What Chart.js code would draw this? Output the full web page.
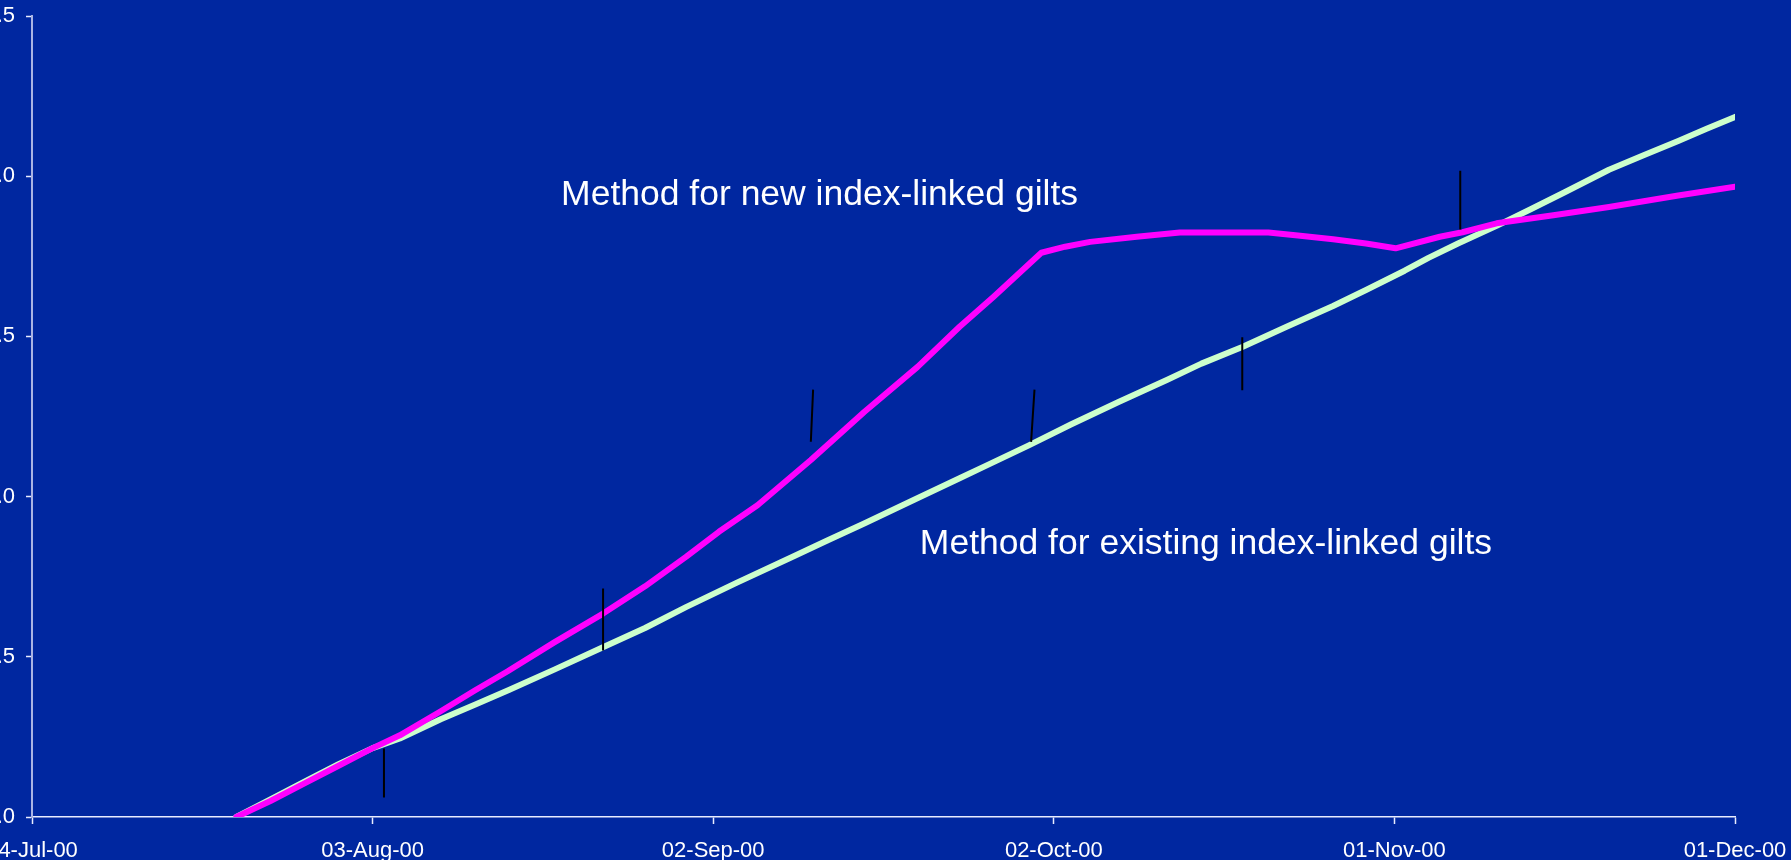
<!DOCTYPE html>
<html>
<head>
<meta charset="utf-8">
<title>Index-linked gilts accrued interest</title>
<script src="https://cdn.jsdelivr.net/npm/chart.js@4.4.1/dist/chart.umd.min.js"></script>
<style>
    html, body { margin: 0; padding: 0; background: #0027a0; overflow: hidden; }
    #wrap { width: 1791px; height: 860px; position: relative; }
</style>
</head>
<body>
<div id="wrap"><canvas id="chart"></canvas></div>
<script>
// x values are days counted from 04-Jul-00
const xTickDays = [0, 30, 60, 90, 120, 150];
const xTickLabels = ['04-Jul-00', '03-Aug-00', '02-Sep-00', '02-Oct-00', '01-Nov-00', '01-Dec-00'];
const yTickValues = [0, 0.5, 1.0, 1.5, 2.0, 2.5];
const yTickLabels = ['0.0', '0.5', '1.0', '1.5', '2.0', '2.5'];

// Method for existing index-linked gilts (light green)
const existingDays = [18, 21, 24, 27, 30, 32.4, 36, 39, 42, 46, 50, 54, 57.6, 62, 67, 70, 73.3, 77.7, 81.7,
    84, 87.8, 91.5, 95.7, 100, 103, 106.6, 110.5, 114.6, 117.5, 120.9, 123, 125.6, 129, 132, 135, 138.9, 142, 145, 147.5, 150];
const existingValues = [0.00, 0.055, 0.11, 0.165, 0.215, 0.245, 0.305, 0.35, 0.396, 0.46, 0.525, 0.59, 0.655, 0.73, 0.812, 0.862, 0.916, 0.99, 1.057,
    1.096, 1.16, 1.225, 1.295, 1.365, 1.415, 1.467, 1.53, 1.595, 1.645, 1.705, 1.745, 1.79, 1.845, 1.897, 1.95, 2.02, 2.066, 2.11, 2.148, 2.185];

// Method for new index-linked gilts (magenta)
const newDays = [18, 21, 24, 27, 30, 32.4, 36, 39, 41.9, 46, 50.3, 54, 57.6, 60.5, 63.9, 68.6, 73.3, 78, 81.7, 84.7,
    88.9, 91, 93.2, 97.3, 101.1, 108.9, 111.5, 114.6, 117.5, 120.1, 124, 126, 129, 134, 138.9, 145, 150];
const newValues = [0.00, 0.05, 0.105, 0.16, 0.215, 0.255, 0.33, 0.395, 0.455, 0.545, 0.635, 0.72, 0.812, 0.89, 0.973, 1.114, 1.264, 1.405, 1.53, 1.624,
    1.761, 1.78, 1.795, 1.811, 1.824, 1.824, 1.815, 1.803, 1.79, 1.775, 1.811, 1.825, 1.853, 1.878, 1.904, 1.94, 1.967];

// short black marker strokes
const markerDayTop    = [31.0, 50.3, 68.8, 88.3, 106.6, 125.8];
const markerDayBottom = [31.0, 50.3, 68.6, 88.0, 106.6, 125.8];
const markerTop       = [0.214, 0.713, 1.334, 1.334, 1.497, 2.017];
const markerBottom    = [0.061, 0.520, 1.171, 1.171, 1.332, 1.834];

const notes = [
    { text: 'Method for new index-linked gilts', day: 46.6, value: 1.910 },
    { text: 'Method for existing index-linked gilts', day: 78.2, value: 0.822 }
];

const toPoints = (days, values) => days.map((d, i) => ({ x: d, y: values[i] }));

const markerPoints = [];
markerTop.forEach((top, i) => {
    markerPoints.push({ x: markerDayTop[i], y: top });
    markerPoints.push({ x: markerDayBottom[i], y: markerBottom[i] });
    markerPoints.push({ x: markerDayBottom[i], y: null });
});

const FONT = "'Liberation Sans', Arial, Helvetica, sans-serif";

const background = {
    id: 'background',
    beforeDraw(chart) {
        const ctx = chart.ctx;
        ctx.save();
        ctx.fillStyle = '#0027a0';
        ctx.fillRect(0, 0, chart.width, chart.height);
        ctx.restore();
    }
};

const noteLabels = {
    id: 'noteLabels',
    afterDatasetsDraw(chart) {
        const ctx = chart.ctx;
        const xs = chart.scales.x, ys = chart.scales.y;
        ctx.save();
        ctx.fillStyle = '#ffffff';
        ctx.font = '35.5px ' + FONT;
        ctx.textAlign = 'left';
        ctx.textBaseline = 'alphabetic';
        notes.forEach(n => {
            ctx.fillText(n.text, xs.getPixelForValue(n.day), ys.getPixelForValue(n.value));
        });
        ctx.restore();
    }
};

new Chart(document.getElementById('chart'), {
    type: 'line',
    data: {
        datasets: [
            {
                label: 'Markers',
                data: markerPoints,
                borderColor: '#000000',
                borderWidth: 2,
                pointRadius: 0,
                spanGaps: false,
                order: 0
            },
            {
                label: 'Method for new index-linked gilts',
                data: toPoints(newDays, newValues),
                borderColor: '#ff00ff',
                borderWidth: 6,
                pointRadius: 0,
                borderJoinStyle: 'round',
                borderCapStyle: 'round',
                tension: 0,
                order: 1
            },
            {
                label: 'Method for existing index-linked gilts',
                data: toPoints(existingDays, existingValues),
                borderColor: '#ccffcc',
                borderWidth: 6,
                pointRadius: 0,
                borderJoinStyle: 'round',
                borderCapStyle: 'round',
                tension: 0,
                order: 2
            }
        ]
    },
    options: {
        responsive: true,
        maintainAspectRatio: false,
        animation: false,
        devicePixelRatio: 1,
        layout: { padding: { top: 16, right: 56, left: 0, bottom: 0 } },
        plugins: {
            legend: { display: false },
            tooltip: { enabled: false }
        },
        scales: {
            x: {
                type: 'linear',
                min: 0,
                max: 150,
                afterBuildTicks: scale => { scale.ticks = xTickDays.map(v => ({ value: v })); },
                afterFit: scale => { scale.height = 43; scale.paddingLeft = 0; scale.paddingRight = 0; },
                grid: { drawOnChartArea: false, drawTicks: true, tickLength: 7, tickColor: '#e8ecff', tickWidth: 1.5 },
                border: { color: '#e8ecff', width: 1.5 },
                ticks: {
                    color: '#ffffff',
                    font: { family: FONT, size: 22 },
                    padding: 14,
                    maxRotation: 0,
                    autoSkip: false,
                    callback: (value, index) => xTickLabels[index]
                }
            },
            y: {
                min: 0,
                max: 2.5,
                afterBuildTicks: scale => { scale.ticks = yTickValues.map(v => ({ value: v })); },
                afterFit: scale => { scale.width = 32; scale.paddingTop = 0; scale.paddingBottom = 0; },
                grid: { drawOnChartArea: false, drawTicks: true, tickLength: 6, tickColor: '#e8ecff', tickWidth: 1.5 },
                border: { color: '#aab4e4', width: 2 },
                ticks: {
                    color: '#ffffff',
                    font: { family: FONT, size: 22 },
                    padding: 11,
                    callback: (value, index) => yTickLabels[index]
                }
            }
        }
    },
    plugins: [background, noteLabels]
});
</script>
</body>
</html>
